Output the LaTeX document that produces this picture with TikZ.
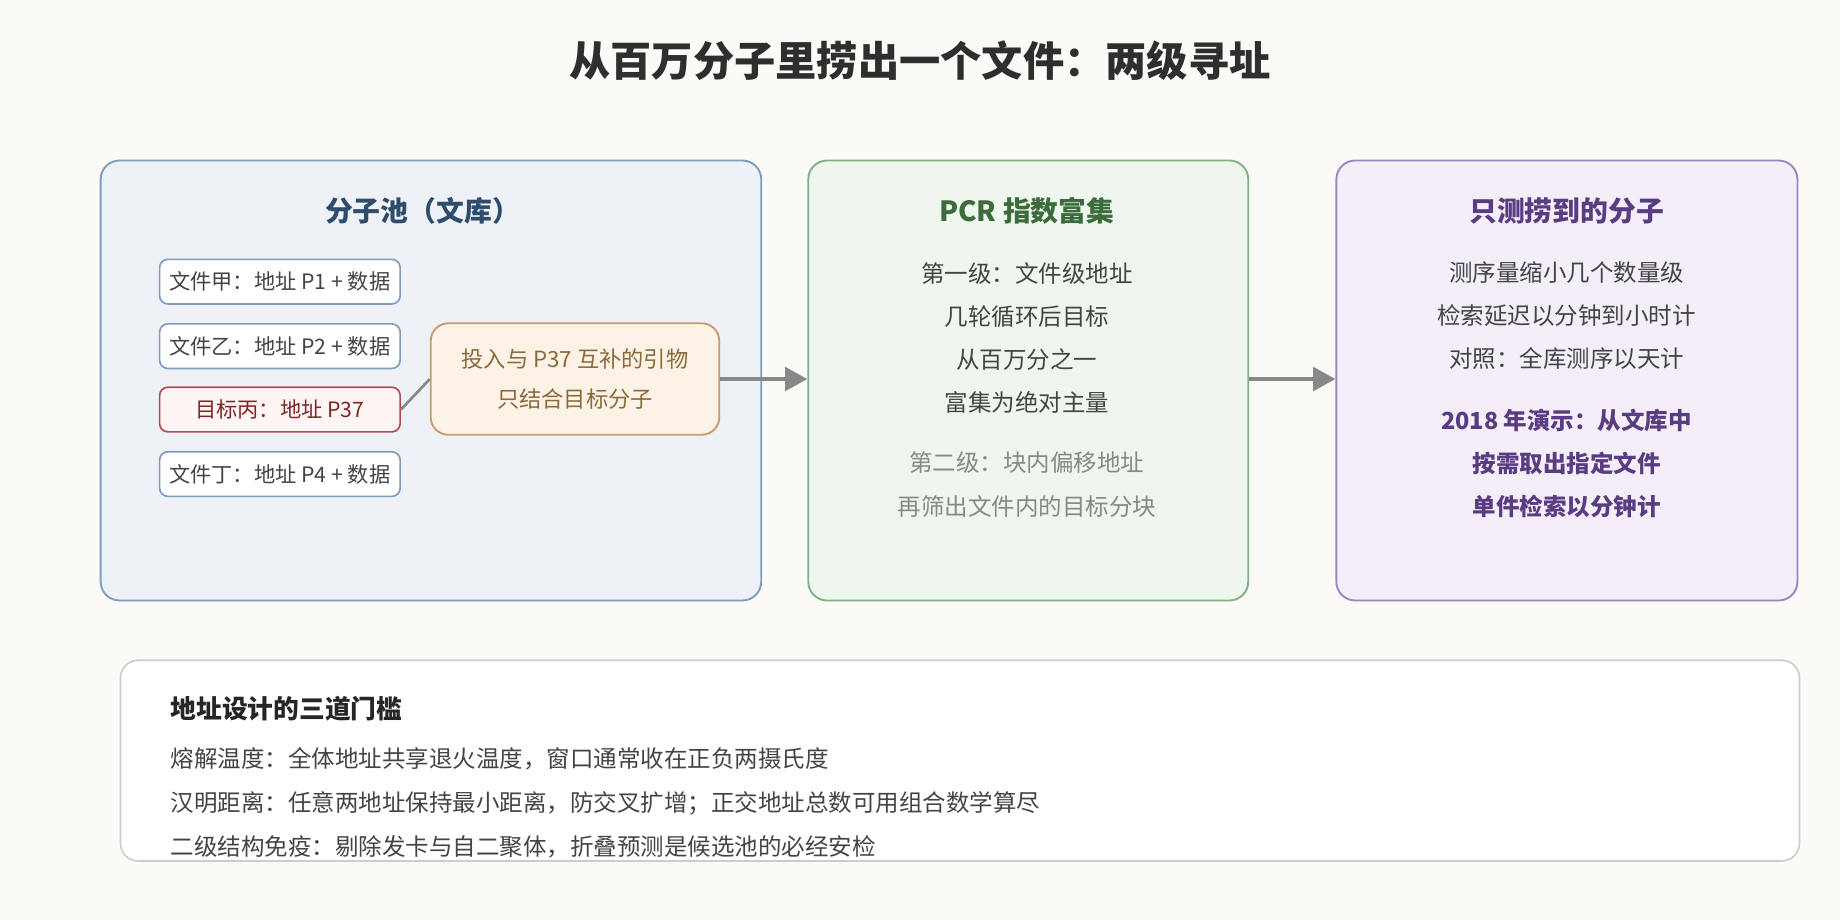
\documentclass[tikz,border=0pt]{standalone}
\usepackage{fontspec}
\usetikzlibrary{arrows.meta}
\setmainfont{Noto Sans CJK SC}
\begin{document}
\begin{tikzpicture}[x=0.02cm,y=-0.02cm,
  panel/.style={draw,rounded corners=0.32cm,line width=0.9pt},
  item/.style={draw=bluebd,fill=white,rounded corners=0.14cm,line width=0.8pt,minimum width=4.1cm,minimum height=0.76cm,inner sep=0pt,font=\fontsize{10.3}{11}\selectfont,text=txt},
  ptitle/.style={font=\fontsize{13.5}{15}\selectfont\bfseries},
  body/.style={font=\fontsize{11.4}{21}\selectfont,text=txt,align=center},
  conn/.style={draw=arr,line width=2pt}]
\definecolor{bg}{HTML}{FBFAF7}
\definecolor{txt}{HTML}{444444}
\definecolor{bluebd}{HTML}{7D9CBF}
\definecolor{arr}{HTML}{888888}
\definecolor{p1f}{HTML}{EEF2F7}
\definecolor{p2f}{HTML}{EEF6EE}
\definecolor{p2d}{HTML}{80B088}
\definecolor{p3f}{HTML}{F3EEF8}
\definecolor{p3d}{HTML}{9A85C2}
\definecolor{t1c}{HTML}{2E4D6E}
\definecolor{t2c}{HTML}{3C6B3C}
\definecolor{t3c}{HTML}{5A3C82}
\definecolor{prd}{HTML}{C99B6A}
\definecolor{prf}{HTML}{FDF2E6}
\definecolor{prt}{HTML}{8A6A3A}
\fill[bg] (0,0) rectangle (1568,784);
\useasboundingbox (0,0) rectangle (1568,784);
\node[font=\fontsize{20}{22}\selectfont\bfseries,text=black!82] (title) at (784,52) {从百万分子里捞出一个文件：两级寻址};
% panels
\node[panel,draw=bluebd,fill=p1f,minimum width=11.26cm,minimum height=7.5cm,anchor=north west] (p1) at (85,136) {};
\node[panel,draw=p2d,fill=p2f,minimum width=7.5cm,minimum height=7.5cm,anchor=north west] (p2) at (688,136) {};
\node[panel,draw=p3d,fill=p3f,minimum width=7.86cm,minimum height=7.5cm,anchor=north west] (p3) at (1138,136) {};
\node[ptitle,text=t1c] (t1) at (360,180) {分子池（文库）};
\node[ptitle,text=t2c] (t2) at (875,180) {PCR 指数富集};
\node[ptitle,text=t3c] (t3) at (1335,180) {只测捞到的分子};
% items
\node[item] (a) at (238.5,240) {文件甲：地址 P1 + 数据};
\node[item] (b) at (238.5,295) {文件乙：地址 P2 + 数据};
\node[item,draw=red!40!gray,fill=red!4!white,text=red!40!black!85] (c) at (238.5,349) {目标丙：地址 P37};
\node[draw=prd,fill=prf,rounded corners=0.3cm,line width=0.9pt,minimum width=4.92cm,minimum height=1.9cm,align=center,font=\fontsize{10.8}{19}\selectfont,text=prt] (pr) at (490,323) {投入与 P37 互补的引物\\只结合目标分子};
\node[item] (d) at (238.5,404) {文件丁：地址 P4 + 数据};
\draw[arr,line width=1.3pt] (c.east) -- (pr.west);
\draw[conn,-{Triangle[length=0.38cm,width=0.4cm]}] (pr.east) -- (p2.west|-pr.east);
\draw[conn,-{Triangle[length=0.38cm,width=0.4cm]}] (p2.east|-pr.east) -- (p3.west|-pr.east);
% panel 2 text
\node[body] (m2) at (875,288) {第一级：文件级地址\\几轮循环后目标\\从百万分之一\\富集为绝对主量};
\node[body,text=arr] (s2) at (875,413) {第二级：块内偏移地址\\再筛出文件内的目标分块};
% panel 3 text
\node[body] (m3) at (1335,269) {测序量缩小几个数量级\\检索延迟以分钟到小时计\\对照：全库测序以天计};
\node[body,text=t3c,font=\fontsize{11.4}{21}\selectfont\bfseries] (s3) at (1335,395) {2018 年演示：从文库中\\按需取出指定文件\\单件检索以分钟计};
% bottom
\node[draw=black!20,fill=white,rounded corners=0.3cm,line width=0.8pt,minimum width=28.62cm,minimum height=3.42cm,anchor=north west] (bt) at (102,562) {};
\node[font=\fontsize{12.5}{14}\selectfont\bfseries,text=black!85,anchor=west,inner sep=0pt] (bh) at (145,604) {地址设计的三道门槛};
\node[body,anchor=west,inner sep=0pt] (l1) at (145,647) {熔解温度：全体地址共享退火温度，窗口通常收在正负两摄氏度};
\node[body,anchor=west,inner sep=0pt] (l2) at (145,685) {汉明距离：任意两地址保持最小距离，防交叉扩增；正交地址总数可用组合数学算尽};
\node[body,anchor=west,inner sep=0pt] (l3) at (145,722) {二级结构免疫：剔除发卡与自二聚体，折叠预测是候选池的必经安检};
\end{tikzpicture}
\end{document}
